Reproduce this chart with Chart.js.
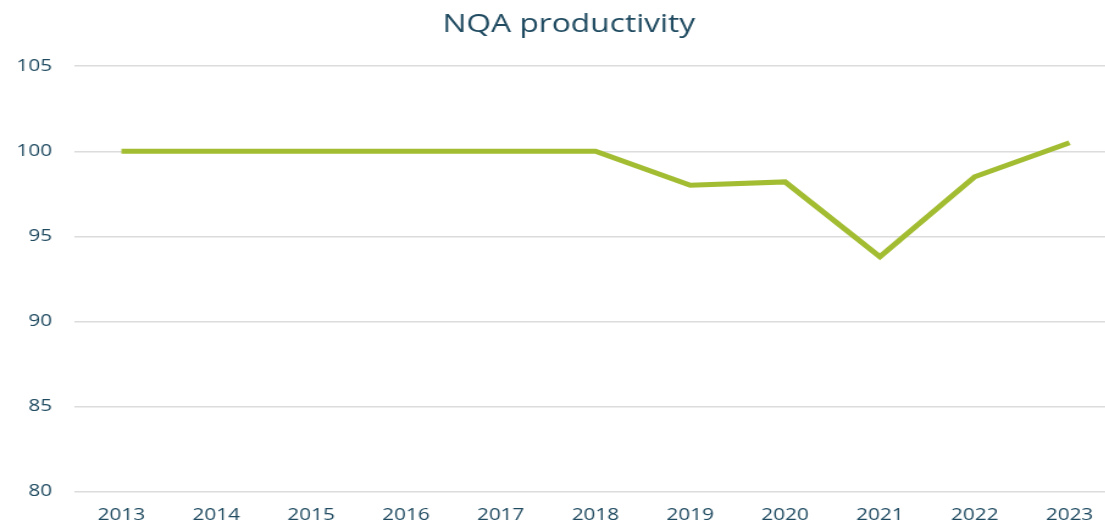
<!DOCTYPE html>
<html>
<head>
<meta charset="utf-8">
<script src="https://cdn.jsdelivr.net/npm/chart.js@4"></script>
<style>
  html, body { margin: 0; padding: 0; background: #fff; overflow: hidden; }
  /* the reference is stretched sideways, so draw narrower and widen it */
  #wrap { width: 918px; height: 524px; transform: scaleX(1.22); transform-origin: 0 0; }
</style>
</head>
<body>
<div id="wrap"><canvas id="chart"></canvas></div>
<script>
const years = ["2013", "2014", "2015", "2016", "2017", "2018", "2019", "2020", "2021", "2022", "2023"];
const productivity = [100, 100, 100, 100, 100, 100, 98.0, 98.2, 93.8, 98.5, 100.5];
const yTicks = [80, 85, 90, 95, 100, 105];

const textColor = "#1f4a60";

// nudge the title a little to the right, like the original
const titleShift = {
    id: "titleShift",
    afterLayout(chart) {
        const t = chart.titleBlock;
        if (t) { t.left += 9.5; t.right += 9.5; }
    }
};

new Chart(document.getElementById("chart"), {
    type: "line",
    data: {
        labels: years,
        datasets: [{
            label: "NQA productivity",
            data: productivity,
            borderColor: "#a3bd33",
            borderWidth: 5,
            pointRadius: 0,
            tension: 0,
            fill: false
        }]
    },
    options: {
        responsive: true,
        maintainAspectRatio: false,
        animation: false,
        layout: { padding: { left: -4.5, right: 0, top: 9, bottom: -6 } },
        plugins: {
            legend: { display: false },
            tooltip: { enabled: false },
            title: {
                display: true,
                text: "NQA productivity",
                color: textColor,
                font: { family: "'Open Sans'", size: 26, weight: "normal", lineHeight: 1.2 },
                padding: { top: 0, bottom: 26 }
            }
        },
        scales: {
            x: {
                offset: true,
                grid: { display: false },
                border: { display: false },
                ticks: {
                    color: textColor,
                    font: { family: "'Open Sans'", size: 17, lineHeight: 1.2 },
                    padding: 5,
                    maxRotation: 0
                }
            },
            y: {
                min: 80,
                max: 105,
                afterBuildTicks: axis => { axis.ticks = yTicks.map(v => ({ value: v })); },
                grid: { color: "#dcdcdc", lineWidth: 1.5, drawTicks: false },
                border: { display: false },
                ticks: {
                    color: textColor,
                    font: { family: "'Open Sans'", size: 17 },
                    padding: 18
                }
            }
        }
    },
    plugins: [titleShift]
});
</script>
</body>
</html>
